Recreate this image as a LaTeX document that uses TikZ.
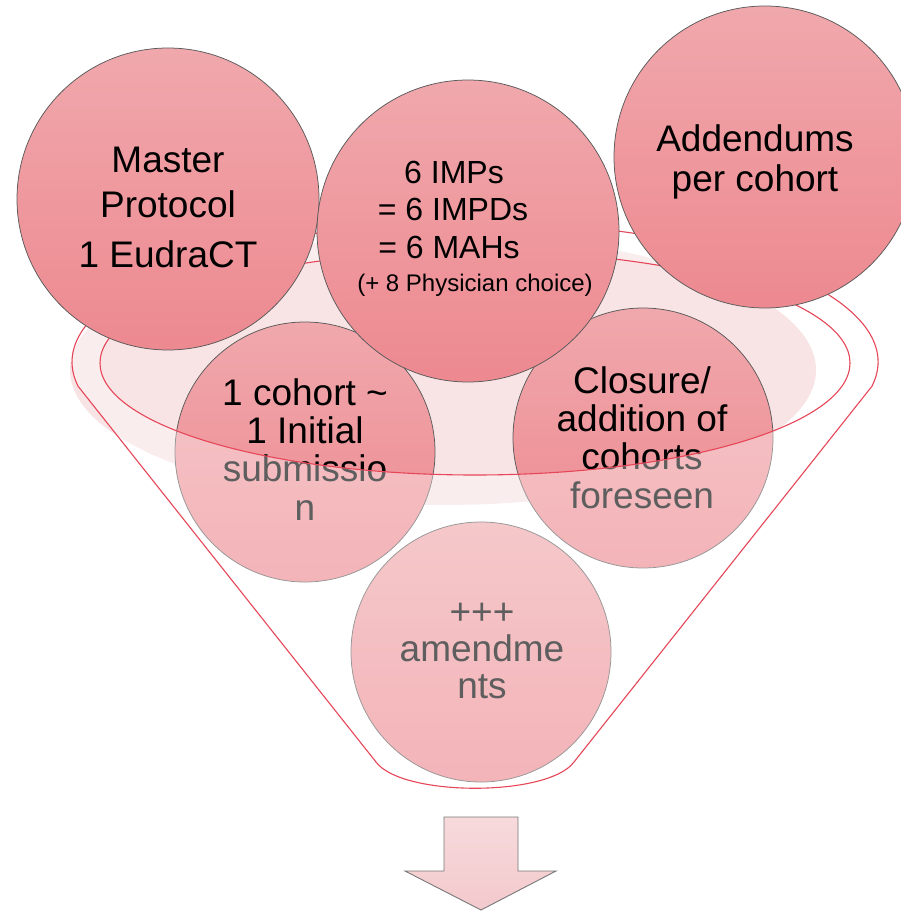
\documentclass[tikz,border=0pt]{standalone}
\usepackage{fontspec}
\setmainfont{Liberation Sans}
\begin{document}
\begin{tikzpicture}[x=1pt,y=-1pt]
\definecolor{ctop}{RGB}{240,168,172}
\definecolor{cbot}{RGB}{237,137,144}
\definecolor{mouthfill}{RGB}{248,228,229}
\definecolor{funnelred}{RGB}{230,70,88}
\definecolor{rimgray}{RGB}{90,90,90}
\definecolor{arrtop}{RGB}{247,218,220}
\definecolor{arrbot}{RGB}{243,201,204}
\definecolor{arrline}{RGB}{120,120,120}
\tikzset{
  ball/.style={circle, draw=rimgray, line width=0.75pt, top color=ctop, bottom color=cbot, inner sep=0pt, minimum size=#1},
  bigtxt/.style={anchor=base, align=center, inner sep=0pt, font=\fontsize{37}{38.3}\selectfont},
  imptxt/.style={anchor=base, inner sep=0pt, font=\fontsize{32}{36}\selectfont},
  smalltxt/.style={anchor=base, inner sep=0pt, font=\fontsize{24}{28}\selectfont},
  funnelline/.style={draw=funnelred, line width=1.1pt},
  glass/.style={fill=white, fill opacity=0.37, even odd rule}
}
\useasboundingbox (0,0) rectangle (900,912);
% funnel mouth fill
\fill[mouthfill] (443,370) ellipse [x radius=373, y radius=135];
% lower balls
\node[ball=260pt] (coh) at (305,452) {};
\node[ball=260pt] (clo) at (643,438) {};
\node[ball=260pt] (amd) at (481,652) {};
\node[bigtxt] (coht) at (305,520) {1 cohort \textasciitilde\\1 Initial\\submissio\\n};
\node[bigtxt] (clot) at (642,508) {Closure/\\addition of\\cohorts\\foreseen};
\node[bigtxt, font=\fontsize{37}{37}\selectfont] (amdt) at (482,698) {+++\\amendme\\nts};
% funnel glass body
\path[glass] (871.9,386.3) arc[start angle=10, end angle=-190, x radius=403, y radius=140]
  -- (376,762) .. controls (402,797) and (548,797) .. (574,762) -- cycle
  (475,363) ellipse [x radius=375, y radius=112];
% funnel outlines
\draw[funnelline] (871.9,386.3) arc[start angle=10, end angle=-190, x radius=403, y radius=140]
  -- (376,762) .. controls (402,797) and (548,797) .. (574,762) -- cycle;
\draw[funnelline] (475,363) ellipse [x radius=375, y radius=112];
% top balls
\node[ball=302pt] (mp) at (168,199) {};
\node[ball=302pt] (imp) at (468,231) {};
\node[ball=302pt] (add) at (765,157) {};
\node[bigtxt, font=\fontsize{37}{45}\selectfont] (mpt) at (168,267) {Master\\Protocol\\[5pt]1 EudraCT};
\node[imptxt] (imp1) at (454,183) {6 IMPs};
\node[imptxt] (imp2) at (453,220) {= 6 IMPDs};
\node[imptxt] (imp3) at (449,258) {= 6 MAHs};
\node[smalltxt] (imp4) at (475,291) {(+ 8 Physician choice)};
\node[bigtxt, font=\fontsize{37}{40}\selectfont] (addt) at (755,192) {Addendums\\per cohort};
% arrow
\draw[draw=arrline, line width=0.9pt, top color=arrtop, bottom color=arrbot]
  (444,817) -- (518,817) -- (518,871) -- (556,871) -- (481,910) -- (405,871) -- (444,871) -- cycle;
\end{tikzpicture}
\end{document}
